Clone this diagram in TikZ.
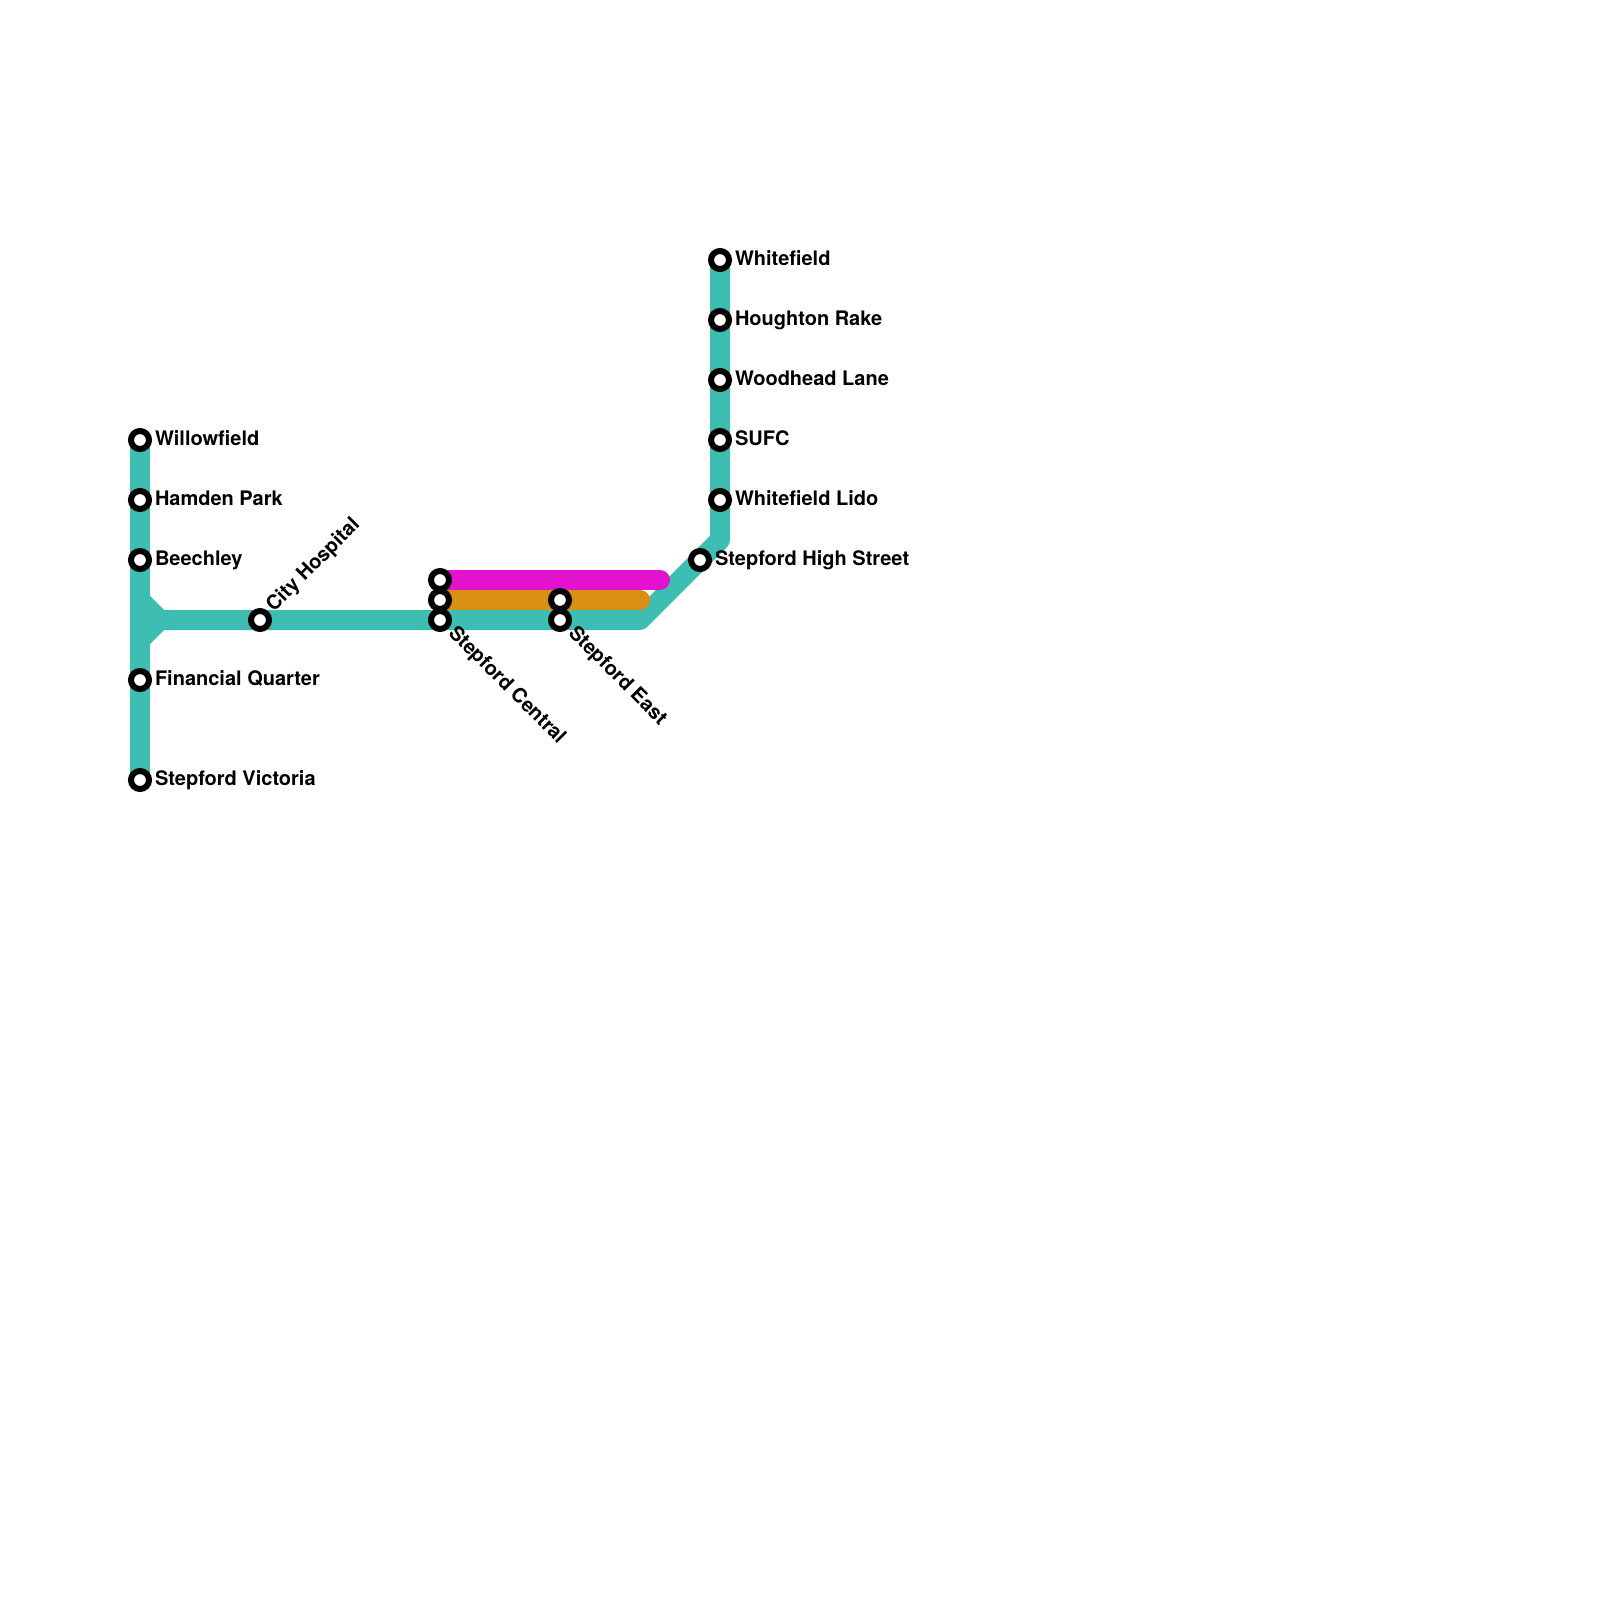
\documentclass[tikz,border=0pt]{standalone}
\usepackage{fontspec}
\setmainfont{TeX Gyre Heros}
\definecolor{teal1}{HTML}{3EBDB3}
\definecolor{mag1}{HTML}{E312CF}
\definecolor{ora1}{HTML}{D98F14}
\tikzset{
  stn/.style={circle,draw=black,fill=white,line width=6pt,minimum size=18pt,inner sep=0pt,outer sep=0pt},
  rail/.style={line width=20pt,line cap=round,line join=round},
  lab/.style={anchor=base west,inner sep=0pt,outer sep=0pt,font=\fontsize{20}{24}\selectfont\bfseries,text=black},
}
\begin{document}
\begin{tikzpicture}[x=1pt,y=-1pt]
\useasboundingbox (0,0) rectangle (1600,1600);
\fill[white] (0,0) rectangle (1600,1600);
\coordinate (j1) at (140,600);
\coordinate (j2) at (140,640);
\coordinate (j3) at (160,620);
\coordinate (b1) at (640,620);
\coordinate (b2) at (720,540);
\coordinate (me) at (660,580);
\coordinate (oe) at (640,600);
\coordinate (wl) at (140,440);
\coordinate (sv) at (140,780);
\coordinate (wf) at (720,260);
\coordinate (sc3) at (440,620);
\coordinate (sc1) at (440,580);
\coordinate (sc2) at (440,600);
% lines
\draw[rail,teal1,line cap=butt] (wl) -- (sv);
\draw[rail,teal1,line cap=butt] (j1) -- (j3) -- (j2);
\draw[rail,teal1,line cap=butt] (j3) -- (b1) -- (b2) -- (wf);
\draw[rail,ora1] (sc2) -- (oe);
\draw[rail,mag1] (sc1) -- (me);
% stations
\node[stn] (willow) at (wl) {};
\node[stn] (hamden) at (140,500) {};
\node[stn] (beech) at (140,560) {};
\node[stn] (fin) at (140,680) {};
\node[stn] (vic) at (sv) {};
\node[stn] (city) at (260,620) {};
\node[stn] (cen1) at (sc1) {};
\node[stn] (cen2) at (sc2) {};
\node[stn] (cen3) at (sc3) {};
\node[stn] (east1) at (560,600) {};
\node[stn] (east2) at (560,620) {};
\node[stn] (high) at (700,560) {};
\node[stn] (lido) at (720,500) {};
\node[stn] (sufc) at (720,440) {};
\node[stn] (wood) at (720,380) {};
\node[stn] (hough) at (720,320) {};
\node[stn] (white) at (wf) {};
% labels
\node[lab] (lwillow) at (155,445) {Willowfield};
\node[lab] (lhamden) at (155,505) {Hamden Park};
\node[lab] (lbeech) at (155,565) {Beechley};
\node[lab] (lfin) at (155,685) {Financial Quarter};
\node[lab] (lvic) at (155,785) {Stepford Victoria};
\node[lab,rotate=45] (lcity) at (274,612.5) {City Hospital};
\node[lab,rotate=-45] (lcen) at (447.5,634) {Stepford Central};
\node[lab,rotate=-45] (least) at (567.5,634) {Stepford East};
\node[lab] (lhigh) at (715,565) {Stepford High Street};
\node[lab] (llido) at (735,505) {Whitefield Lido};
\node[lab] (lsufc) at (735,445) {SUFC};
\node[lab] (lwood) at (735,385) {Woodhead Lane};
\node[lab] (lhough) at (735,325) {Houghton Rake};
\node[lab] (lwhite) at (735,265) {Whitefield};
\end{tikzpicture}
\end{document}
